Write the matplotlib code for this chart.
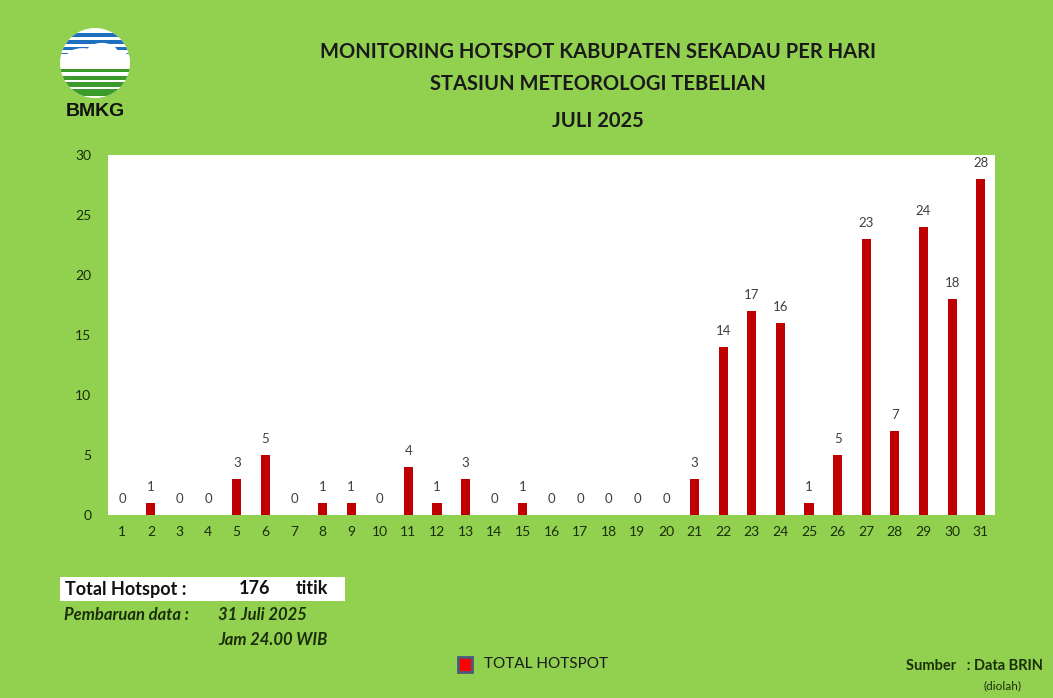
import numpy as np
import matplotlib
matplotlib.use("Agg")
import matplotlib.pyplot as plt
from matplotlib.patches import Circle, Rectangle, Ellipse

# Data
days = [str(d) for d in range(1, 32)]
hotspot = [0, 1, 0, 0, 3, 5, 0, 1, 1, 0, 4, 1, 3, 0, 1, 0, 0, 0, 0, 0,
           3, 14, 17, 16, 1, 5, 23, 7, 24, 18, 28]
yticks = [0, 5, 10, 15, 20, 25, 30]

title_lines = ["MONITORING HOTSPOT KABUPATEN SEKADAU PER HARI",
               "STASIUN METEOROLOGI TEBELIAN",
               "JULI 2025"]

green = "#92D050"
bar_red = "#C00000"
font = "Lato"

fig = plt.figure(figsize=(10.53, 6.98), dpi=100, facecolor=green)

W, H = 1053, 698
def fx(px):
    return px / W
def fy(py):
    return 1 - py / H

ax = fig.add_axes([fx(108), fy(515), fx(995) - fx(108), fy(155) - fy(515)])
ax.set_facecolor("white")
x = np.arange(len(days))
ax.bar(x, hotspot, width=0.32, color=bar_red)
for xi, v in zip(x, hotspot):
    ax.text(xi, v + 0.8, str(v), ha="center", va="bottom", fontsize=9.5,
            color="#404040", family=font)
ax.set_xlim(-0.5, len(days) - 0.5)
ax.set_ylim(0, 30)
ax.set_xticks(x)
ax.set_xticklabels(days, fontsize=10, color="#1a2e0a", family=font)
ax.set_yticks(yticks)
ax.set_yticklabels([str(t) for t in yticks], fontsize=10, color="#1a2e0a", family=font)
ax.tick_params(length=0, pad=8)
ax.tick_params(axis="y", pad=12)
for s in ax.spines.values():
    s.set_visible(False)

# Titles
for txt, py in zip(title_lines, [52, 84, 121]):
    fig.text(fx(598), fy(py), txt, ha="center", va="center", fontsize=14.5,
             fontweight="bold", color="#1a1a1a", family=font)

# Logo
lax = fig.add_axes([fx(60), fy(98), fx(130) - fx(60), fy(28) - fy(98)])
lax.set_xlim(-1, 1)
lax.set_ylim(-1, 1)
lax.set_aspect("equal")
lax.axis("off")
circ = Circle((0, 0), 1, facecolor="white", edgecolor="none")
lax.add_patch(circ)
stripes = [(0.8, 0.14, "#1f6fc1"), (0.6, 0.1, "#1f6fc1"), (0.42, 0.07, "#1f6fc1"),
           (0.27, 0.05, "#1f6fc1"),
           (-0.22, 0.08, "#3a9a2a"), (-0.42, 0.11, "#3a9a2a"), (-0.62, 0.13, "#3a9a2a"),
           (-0.84, 0.18, "#3a9a2a")]
for yc, h, c in stripes:
    r = Rectangle((-1, yc - h / 2), 2, h, facecolor=c, edgecolor="none")
    lax.add_patch(r)
    r.set_clip_path(circ)
for cx, cy, ew, eh in [(-0.35, 0.2, 0.9, 0.45), (0.2, 0.3, 0.9, 0.55), (0.65, 0.15, 0.7, 0.35)]:
    e = Ellipse((cx, cy), ew, eh, facecolor="white", edgecolor="none")
    lax.add_patch(e)
    e.set_clip_path(circ)
fig.text(fx(95), fy(112), "BMKG", ha="center", va="center", fontsize=14,
         fontweight="bold", color="#111111", family="Liberation Sans")

# Total hotspot box
fig.patches.append(Rectangle((fx(60), fy(601)), fx(345) - fx(60), fy(577) - fy(601),
                             transform=fig.transFigure, facecolor="white",
                             edgecolor="none"))
fig.text(fx(65), fy(589), "Total Hotspot :", ha="left", va="center", fontsize=13,
         fontweight="bold", color="#111111", family=font)
fig.text(fx(255), fy(589), "176", ha="center", va="center", fontsize=13,
         fontweight="bold", color="#111111", family=font)
fig.text(fx(296), fy(589), "titik", ha="left", va="center", fontsize=13,
         fontweight="bold", color="#111111", family=font)
fig.text(fx(64), fy(615), "Pembaruan data :", ha="left", va="center", fontsize=12,
         fontweight="bold", style="italic", color="#1a2e0a", family=font)
fig.text(fx(218), fy(615), "31 Juli 2025", ha="left", va="center", fontsize=12,
         fontweight="bold", style="italic", color="#1a2e0a", family=font)
fig.text(fx(218), fy(640), "Jam 24.00 WIB", ha="left", va="center", fontsize=12,
         fontweight="bold", style="italic", color="#1a2e0a", family=font)

# Legend
fig.patches.append(Rectangle((fx(458), fy(672)), fx(472) - fx(458), fy(657) - fy(672),
                             transform=fig.transFigure, facecolor="#ff0000",
                             edgecolor="#4a5a7a", linewidth=2))
fig.text(fx(484), fy(664), "TOTAL HOTSPOT", ha="left", va="center", fontsize=11,
         color="#1a1a1a", family=font)

# Source
fig.text(fx(1043), fy(666), "Sumber   : Data BRIN", ha="right", va="center",
         fontsize=10.5, fontweight="bold", color="#1a2e0a", family=font)
fig.text(fx(1003), fy(686), "(diolah)", ha="center", va="center", fontsize=8.5,
         color="#1a2e0a", family=font)

fig.savefig("out.png", dpi=100, facecolor=green)
